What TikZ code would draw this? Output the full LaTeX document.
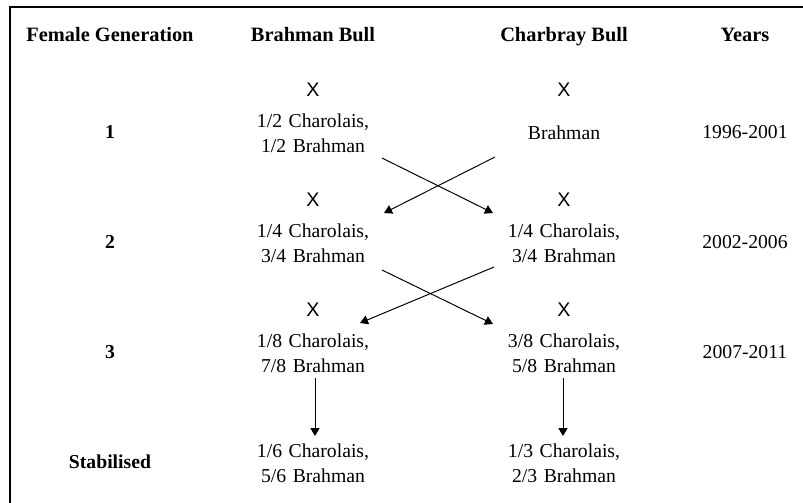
\documentclass[tikz,border=0pt]{standalone}
\usepackage{fontspec}
\setmainfont{Liberation Serif}
\newfontfamily\crossfont{Liberation Sans}
\usetikzlibrary{arrows.meta,positioning,calc}

\begin{document}
\begin{tikzpicture}[x=0.025cm,y=-0.025cm,
  head/.style={font=\fontsize{14.5}{17}\selectfont\bfseries,anchor=base,inner sep=0},
  cell/.style={font=\fontsize{14}{17.8}\selectfont,align=center,text width=3cm,minimum height=1.1cm,inner sep=0,outer sep=0},
  gen/.style={font=\fontsize{14}{17}\selectfont\bfseries,anchor=base,inner sep=0},
  yrs/.style={font=\fontsize{14}{17}\selectfont,anchor=base,inner sep=0},
  cross/.style={font=\crossfont\fontsize{14}{17}\selectfont,inner sep=0,above=0.35cm of #1},
  arrow/.style={-{Triangle[length=2mm,width=2.3mm]},line width=0.7pt}
]
\useasboundingbox (0,0) rectangle (803,502);
\draw[line width=1.4pt] (10,530) -- (10,7) -- (830,7);

\node[head] (hgen) at (110,41) {Female Generation};
\node[head] (hbra) at (313,41) {Brahman Bull};
\node[head] (hcha) at (564,41) {Charbray Bull};
\node[head] (hyrs) at (745,41) {Years};

\node[cell] (b1) at (313,133) {1/2 Charolais,\\1/2 Brahman};
\node[cell] (c1) at (564,133) {Brahman};
\node[cell] (b2) at (313,243) {1/4 Charolais,\\3/4 Brahman};
\node[cell] (c2) at (564,243) {1/4 Charolais,\\3/4 Brahman};
\node[cell] (b3) at (313,353) {1/8 Charolais,\\7/8 Brahman};
\node[cell] (c3) at (564,353) {3/8 Charolais,\\5/8 Brahman};
\node[cell] (b4) at (313,463) {1/6 Charolais,\\5/6 Brahman};
\node[cell] (c4) at (564,463) {1/3 Charolais,\\2/3 Brahman};

\node[cross=b1] (xb1) {X};
\node[cross=c1] (xc1) {X};
\node[cross=b2] (xb2) {X};
\node[cross=c2] (xc2) {X};
\node[cross=b3] (xb3) {X};
\node[cross=c3] (xc3) {X};

\node[gen] (g1) at (110,138) {1};
\node[gen] (g2) at (110,248) {2};
\node[gen] (g3) at (110,358) {3};
\node[gen] (g4) at (110,468) {Stabilised};

\node[yrs] (y1) at (745,138) {1996-2001};
\node[yrs] (y2) at (745,248) {2002-2006};
\node[yrs] (y3) at (745,358) {2007-2011};

\draw[arrow] ([shift={(9,3)}]b1.south east) -- ([shift={(-11,-8)}]c2.north west);
\draw[arrow] ([shift={(-9,2)}]c1.south west) -- ([shift={(11,-8)}]b2.north east);
\draw[arrow] ([shift={(9,5)}]b2.south east) -- ([shift={(-11,-7)}]c3.north west);
\draw[arrow] ([shift={(-10,2)}]c2.south west) -- ([shift={(-13,-8)}]b3.north east);
\draw[arrow] ([shift={(2,3)}]b3.south) -- ([shift={(2,-5)}]b4.north);
\draw[arrow] ([shift={(-1,3)}]c3.south) -- ([shift={(-1,-5)}]c4.north);
\end{tikzpicture}
\end{document}
